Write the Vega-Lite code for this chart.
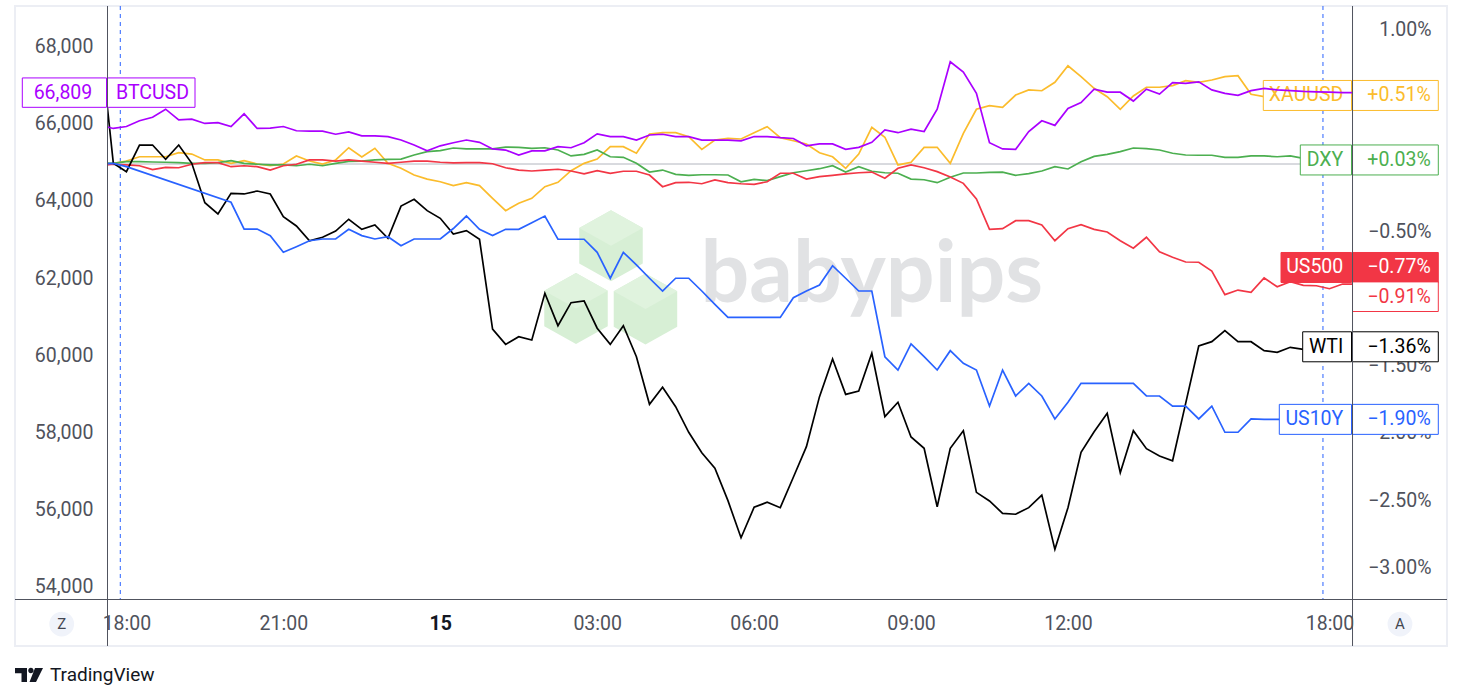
{
"$schema":"https://vega.github.io/schema/vega-lite/v6.json",
"width":1245,"height":593,
"autosize":{"type":"none"},
"padding":{"left":107,"top":6,"right":111,"bottom":101},
"background":"#ffffff",
"config":{"view":{"stroke":null},"font":"Roboto",
 "axis":{"grid":false,"ticks":false,"tickSize":0,"domain":false,"labelFont":"Roboto","labelFontSize":19.5,"labelColor":"#4f525c","zindex":0}},
"datasets":{
"bars":[
{"h":-0.5,"BTCUSD":65970,"XAUUSD":-0.01,"DXY":0.01,"US500":-0.013,"WTI":0.92,"US10Y":0},
{"h":-0.25,"BTCUSD":65880,"XAUUSD":0.005,"DXY":0.005,"US500":-0.002,"WTI":0.005,"US10Y":0.005},
{"h":0,"BTCUSD":65930,"XAUUSD":0.022,"DXY":0.017,"US500":-0.007,"WTI":-0.057,"US10Y":-0.02},
{"h":0.25,"BTCUSD":66080,"XAUUSD":0.054,"DXY":0.017,"US500":-0.013,"WTI":0.141,"US10Y":null},
{"h":0.5,"BTCUSD":66170,"XAUUSD":0.054,"DXY":0.015,"US500":-0.042,"WTI":0.141,"US10Y":null},
{"h":0.75,"BTCUSD":66380,"XAUUSD":0.054,"DXY":0.013,"US500":-0.025,"WTI":0.035,"US10Y":null},
{"h":1,"BTCUSD":66100,"XAUUSD":0.084,"DXY":0.01,"US500":-0.028,"WTI":0.141,"US10Y":null},
{"h":1.25,"BTCUSD":66120,"XAUUSD":0.074,"DXY":0.005,"US500":-0.002,"WTI":0.005,"US10Y":null},
{"h":1.5,"BTCUSD":66010,"XAUUSD":0.03,"DXY":0.005,"US500":0.01,"WTI":-0.288,"US10Y":null},
{"h":1.75,"BTCUSD":66030,"XAUUSD":0.03,"DXY":0.01,"US500":0.01,"WTI":-0.372,"US10Y":null},
{"h":2,"BTCUSD":65930,"XAUUSD":0.005,"DXY":0.025,"US500":-0.02,"WTI":-0.218,"US10Y":-0.285},
{"h":2.25,"BTCUSD":66260,"XAUUSD":0.025,"DXY":0.005,"US500":-0.013,"WTI":-0.223,"US10Y":-0.484},
{"h":2.5,"BTCUSD":65880,"XAUUSD":0,"DXY":-0.002,"US500":-0.02,"WTI":-0.201,"US10Y":-0.484},
{"h":2.75,"BTCUSD":65890,"XAUUSD":-0.013,"DXY":-0.007,"US500":-0.045,"WTI":-0.223,"US10Y":-0.533},
{"h":3,"BTCUSD":65930,"XAUUSD":0,"DXY":-0.007,"US500":-0.013,"WTI":-0.392,"US10Y":-0.657},
{"h":3.25,"BTCUSD":65820,"XAUUSD":0.06,"DXY":-0.013,"US500":-0.002,"WTI":-0.461,"US10Y":-0.615},
{"h":3.5,"BTCUSD":65810,"XAUUSD":0.022,"DXY":-0.002,"US500":0.03,"WTI":-0.571,"US10Y":-0.571},
{"h":3.75,"BTCUSD":65810,"XAUUSD":0,"DXY":-0.013,"US500":0.03,"WTI":-0.545,"US10Y":-0.558},
{"h":4,"BTCUSD":65730,"XAUUSD":0.03,"DXY":0.005,"US500":0.022,"WTI":-0.499,"US10Y":-0.558},
{"h":4.25,"BTCUSD":65790,"XAUUSD":0.121,"DXY":0.02,"US500":0.03,"WTI":-0.411,"US10Y":-0.486},
{"h":4.5,"BTCUSD":65690,"XAUUSD":0.052,"DXY":0.022,"US500":0.022,"WTI":-0.486,"US10Y":-0.533},
{"h":4.75,"BTCUSD":65690,"XAUUSD":0.117,"DXY":0.03,"US500":0.013,"WTI":-0.454,"US10Y":-0.558},
{"h":5,"BTCUSD":65670,"XAUUSD":0.005,"DXY":0.035,"US500":0.005,"WTI":-0.553,"US10Y":-0.541},
{"h":5.25,"BTCUSD":65580,"XAUUSD":-0.032,"DXY":0.037,"US500":0.013,"WTI":-0.313,"US10Y":-0.608},
{"h":5.5,"BTCUSD":65450,"XAUUSD":-0.082,"DXY":0.067,"US500":0.022,"WTI":-0.263,"US10Y":-0.558},
{"h":5.75,"BTCUSD":65300,"XAUUSD":-0.112,"DXY":0.092,"US500":0.022,"WTI":-0.347,"US10Y":-0.558},
{"h":6,"BTCUSD":65430,"XAUUSD":-0.132,"DXY":0.099,"US500":0.013,"WTI":-0.404,"US10Y":-0.558},
{"h":6.25,"BTCUSD":65510,"XAUUSD":-0.161,"DXY":0.119,"US500":0.008,"WTI":-0.521,"US10Y":-0.48},
{"h":6.5,"BTCUSD":65580,"XAUUSD":-0.139,"DXY":0.112,"US500":0.01,"WTI":-0.496,"US10Y":-0.387},
{"h":6.75,"BTCUSD":65520,"XAUUSD":-0.161,"DXY":0.112,"US500":0.01,"WTI":-0.56,"US10Y":-0.486},
{"h":7,"BTCUSD":65350,"XAUUSD":-0.255,"DXY":0.112,"US500":0.002,"WTI":-1.228,"US10Y":-0.533},
{"h":7.25,"BTCUSD":65320,"XAUUSD":-0.347,"DXY":0.126,"US500":-0.028,"WTI":-1.342,"US10Y":-0.486},
{"h":7.5,"BTCUSD":65190,"XAUUSD":-0.292,"DXY":0.124,"US500":-0.045,"WTI":-1.285,"US10Y":-0.486},
{"h":7.75,"BTCUSD":65300,"XAUUSD":-0.255,"DXY":0.117,"US500":-0.052,"WTI":-1.31,"US10Y":-0.437},
{"h":8,"BTCUSD":65300,"XAUUSD":-0.169,"DXY":0.121,"US500":-0.045,"WTI":-0.962,"US10Y":-0.387},
{"h":8.25,"BTCUSD":65410,"XAUUSD":-0.136,"DXY":0.104,"US500":-0.039,"WTI":-1.203,"US10Y":-0.56},
{"h":8.5,"BTCUSD":65380,"XAUUSD":-0.05,"DXY":0.06,"US500":-0.052,"WTI":-1.032,"US10Y":-0.56},
{"h":8.75,"BTCUSD":65510,"XAUUSD":0.005,"DXY":0.072,"US500":-0.074,"WTI":-1.019,"US10Y":-0.56},
{"h":9,"BTCUSD":65740,"XAUUSD":0.037,"DXY":0.104,"US500":-0.05,"WTI":-1.222,"US10Y":-0.657},
{"h":9.25,"BTCUSD":65670,"XAUUSD":0.129,"DXY":0.054,"US500":-0.069,"WTI":-1.342,"US10Y":-0.85},
{"h":9.5,"BTCUSD":65670,"XAUUSD":0.129,"DXY":0.05,"US500":-0.054,"WTI":-1.203,"US10Y":-0.657},
{"h":9.75,"BTCUSD":65580,"XAUUSD":0.08,"DXY":0.005,"US500":-0.054,"WTI":-1.434,"US10Y":-0.751},
{"h":10,"BTCUSD":65710,"XAUUSD":0.223,"DXY":-0.06,"US500":-0.082,"WTI":-1.788,"US10Y":-0.85},
{"h":10.25,"BTCUSD":65730,"XAUUSD":0.233,"DXY":-0.045,"US500":-0.169,"WTI":-1.661,"US10Y":-0.945},
{"h":10.5,"BTCUSD":65670,"XAUUSD":0.233,"DXY":-0.077,"US500":-0.139,"WTI":-1.806,"US10Y":-0.85},
{"h":10.75,"BTCUSD":65670,"XAUUSD":0.203,"DXY":-0.084,"US500":-0.136,"WTI":-1.996,"US10Y":-0.85},
{"h":11,"BTCUSD":65580,"XAUUSD":0.109,"DXY":-0.08,"US500":-0.147,"WTI":-2.148,"US10Y":-0.945},
{"h":11.25,"BTCUSD":65580,"XAUUSD":0.179,"DXY":-0.08,"US500":-0.119,"WTI":-2.264,"US10Y":-1.044},
{"h":11.5,"BTCUSD":65580,"XAUUSD":0.191,"DXY":-0.082,"US500":-0.139,"WTI":-2.505,"US10Y":-1.141},
{"h":11.75,"BTCUSD":65560,"XAUUSD":0.186,"DXY":-0.132,"US500":-0.147,"WTI":-2.781,"US10Y":-1.141},
{"h":12,"BTCUSD":65670,"XAUUSD":0.233,"DXY":-0.114,"US500":-0.151,"WTI":-2.554,"US10Y":-1.141},
{"h":12.25,"BTCUSD":65670,"XAUUSD":0.278,"DXY":-0.124,"US500":-0.132,"WTI":-2.517,"US10Y":-1.141},
{"h":12.5,"BTCUSD":65640,"XAUUSD":0.196,"DXY":-0.094,"US500":-0.069,"WTI":-2.557,"US10Y":-1.141},
{"h":12.75,"BTCUSD":65620,"XAUUSD":0.173,"DXY":-0.065,"US500":-0.069,"WTI":-2.331,"US10Y":-0.995},
{"h":13,"BTCUSD":65430,"XAUUSD":0.149,"DXY":-0.05,"US500":-0.112,"WTI":-2.103,"US10Y":-0.945},
{"h":13.25,"BTCUSD":65480,"XAUUSD":0.084,"DXY":-0.035,"US500":-0.094,"WTI":-1.731,"US10Y":-0.9},
{"h":13.5,"BTCUSD":65480,"XAUUSD":0.054,"DXY":-0.013,"US500":-0.084,"WTI":-1.451,"US10Y":-0.757},
{"h":13.75,"BTCUSD":65340,"XAUUSD":-0.032,"DXY":-0.06,"US500":-0.074,"WTI":-1.714,"US10Y":-0.85},
{"h":14,"BTCUSD":65390,"XAUUSD":0.074,"DXY":-0.02,"US500":-0.065,"WTI":-1.689,"US10Y":-0.945},
{"h":14.25,"BTCUSD":65520,"XAUUSD":0.273,"DXY":-0.054,"US500":-0.06,"WTI":-1.408,"US10Y":-0.945},
{"h":14.5,"BTCUSD":65840,"XAUUSD":0.199,"DXY":-0.065,"US500":-0.106,"WTI":-1.88,"US10Y":-1.434},
{"h":14.75,"BTCUSD":65770,"XAUUSD":-0.007,"DXY":-0.069,"US500":-0.032,"WTI":-1.773,"US10Y":-1.533},
{"h":15,"BTCUSD":65860,"XAUUSD":0.013,"DXY":-0.112,"US500":-0.006,"WTI":-2.031,"US10Y":-1.339},
{"h":15.25,"BTCUSD":65800,"XAUUSD":0.124,"DXY":-0.117,"US500":-0.028,"WTI":-2.115,"US10Y":-1.434},
{"h":15.5,"BTCUSD":66380,"XAUUSD":0.124,"DXY":-0.139,"US500":-0.057,"WTI":-2.55,"US10Y":-1.533},
{"h":15.75,"BTCUSD":67610,"XAUUSD":0.005,"DXY":-0.099,"US500":-0.097,"WTI":-2.115,"US10Y":-1.389},
{"h":16,"BTCUSD":67340,"XAUUSD":0.228,"DXY":-0.067,"US500":-0.144,"WTI":-1.984,"US10Y":-1.483},
{"h":16.25,"BTCUSD":66790,"XAUUSD":0.407,"DXY":-0.067,"US500":-0.26,"WTI":-2.443,"US10Y":-1.533},
{"h":16.5,"BTCUSD":65510,"XAUUSD":0.434,"DXY":-0.062,"US500":-0.486,"WTI":-2.507,"US10Y":-1.801},
{"h":16.75,"BTCUSD":65350,"XAUUSD":0.422,"DXY":-0.06,"US500":-0.481,"WTI":-2.599,"US10Y":-1.533},
{"h":17,"BTCUSD":65340,"XAUUSD":0.513,"DXY":-0.084,"US500":-0.422,"WTI":-2.606,"US10Y":-1.726},
{"h":17.25,"BTCUSD":65800,"XAUUSD":0.551,"DXY":-0.072,"US500":-0.422,"WTI":-2.557,"US10Y":-1.632},
{"h":17.5,"BTCUSD":66080,"XAUUSD":0.545,"DXY":-0.052,"US500":-0.454,"WTI":-2.463,"US10Y":-1.726},
{"h":17.75,"BTCUSD":65960,"XAUUSD":0.608,"DXY":-0.02,"US500":-0.571,"WTI":-2.867,"US10Y":-1.897},
{"h":18,"BTCUSD":66400,"XAUUSD":0.731,"DXY":-0.037,"US500":-0.481,"WTI":-2.557,"US10Y":-1.773},
{"h":18.25,"BTCUSD":66550,"XAUUSD":0.65,"DXY":0.017,"US500":-0.452,"WTI":-2.145,"US10Y":-1.632},
{"h":18.5,"BTCUSD":66900,"XAUUSD":0.563,"DXY":0.057,"US500":-0.486,"WTI":-1.992,"US10Y":-1.632},
{"h":18.75,"BTCUSD":66820,"XAUUSD":0.501,"DXY":0.072,"US500":-0.506,"WTI":-1.855,"US10Y":-1.632},
{"h":19,"BTCUSD":66820,"XAUUSD":0.407,"DXY":0.092,"US500":-0.571,"WTI":-2.297,"US10Y":-1.632},
{"h":19.25,"BTCUSD":66590,"XAUUSD":0.506,"DXY":0.119,"US500":-0.627,"WTI":-1.984,"US10Y":-1.632},
{"h":19.5,"BTCUSD":66900,"XAUUSD":0.571,"DXY":0.114,"US500":-0.545,"WTI":-2.118,"US10Y":-1.726},
{"h":19.75,"BTCUSD":66770,"XAUUSD":0.571,"DXY":0.104,"US500":-0.653,"WTI":-2.173,"US10Y":-1.726},
{"h":20,"BTCUSD":67070,"XAUUSD":0.583,"DXY":0.08,"US500":-0.694,"WTI":-2.208,"US10Y":-1.801},
{"h":20.25,"BTCUSD":67050,"XAUUSD":0.62,"DXY":0.067,"US500":-0.729,"WTI":-1.781,"US10Y":-1.801},
{"h":20.5,"BTCUSD":67090,"XAUUSD":0.608,"DXY":0.065,"US500":-0.731,"WTI":-1.354,"US10Y":-1.897},
{"h":20.75,"BTCUSD":66880,"XAUUSD":0.625,"DXY":0.065,"US500":-0.796,"WTI":-1.322,"US10Y":-1.801},
{"h":21,"BTCUSD":66790,"XAUUSD":0.65,"DXY":0.05,"US500":-0.972,"WTI":-1.24,"US10Y":-1.996},
{"h":21.25,"BTCUSD":66740,"XAUUSD":0.657,"DXY":0.05,"US500":-0.938,"WTI":-1.322,"US10Y":-1.996},
{"h":21.5,"BTCUSD":66860,"XAUUSD":0.519,"DXY":0.06,"US500":-0.955,"WTI":-1.322,"US10Y":-1.897},
{"h":21.75,"BTCUSD":66920,"XAUUSD":0.501,"DXY":0.06,"US500":-0.848,"WTI":-1.389,"US10Y":-1.9},
{"h":22,"BTCUSD":66880,"XAUUSD":0.5,"DXY":0.054,"US500":-0.913,"WTI":-1.401,"US10Y":-1.9},
{"h":22.25,"BTCUSD":66860,"XAUUSD":0.52,"DXY":0.06,"US500":-0.876,"WTI":-1.364,"US10Y":-1.9},
{"h":22.5,"BTCUSD":66840,"XAUUSD":0.51,"DXY":0.042,"US500":-0.903,"WTI":-1.379,"US10Y":-1.9},
{"h":22.75,"BTCUSD":66830,"XAUUSD":0.5,"DXY":0.035,"US500":-0.906,"WTI":-1.37,"US10Y":-1.9},
{"h":23,"BTCUSD":66820,"XAUUSD":0.51,"DXY":0.03,"US500":-0.928,"WTI":-1.36,"US10Y":-1.9},
{"h":23.25,"BTCUSD":66810,"XAUUSD":0.51,"DXY":0.03,"US500":-0.893,"WTI":-1.36,"US10Y":-1.9},
{"h":23.5,"BTCUSD":66809,"XAUUSD":0.51,"DXY":0.03,"US500":-0.895,"WTI":-1.36,"US10Y":-1.9}
],
"lastValues":[
{"name":"XAUUSD","last":0.51,"label":"+0.51%"},
{"name":"DXY","last":0.03,"label":"+0.03%"},
{"name":"US500","last":-0.77,"label":"−0.77%"},
{"name":"WTI","last":-1.36,"label":"−1.36%"},
{"name":"US10Y","last":-1.9,"label":"−1.90%"}
],
"sessions":[{"h":-0.117},{"h":22.875}],
"cubes":[{"h":9.264,"pct":-0.609},{"h":8.595,"pct":-1.076},{"h":9.923,"pct":-1.079}]
},
"layer":[
{"layer":[
 {"data":{"values":[{}]},"mark":{"type":"rect","fill":"#ffffff","fillOpacity":0,"stroke":"#eceef4","strokeWidth":2},
  "encoding":{"x":{"datum":-2.13,"type":"quantitative","title":null,"scale":{"domain":[-0.371,23.43],"nice":false,"zero":false},
    "axis":{"orient":"bottom","title":null,"values":[0,3,6,9,12,15,18,23],"labelExpr":"datum.value == 0 ? '18:00' : datum.value == 3 ? '21:00' : datum.value == 6 ? '15' : datum.value == 9 ? '03:00' : datum.value == 12 ? '06:00' : datum.value == 15 ? '09:00' : datum.value == 18 ? '12:00' : '18:00'","labelPadding":30,"labelBaseline":"alphabetic","labelOverlap":false,"labelFlush":false,"labelBound":false,"labelFontWeight":{"condition":{"test":"datum.value === 6","value":"bold"},"value":"normal"},"labelColor":{"condition":{"test":"datum.value === 6","value":"#131722"},"value":"#4f525c"},"zindex":0}},
   "x2":{"datum":25.246},
   "y":{"datum":1.1756,"type":"quantitative","title":null,"scale":{"domain":[-3.2366,1.1756],"nice":false,"zero":false},
    "axis":{"orient":"right","title":null,"values":[1,-0.5,-1.5,-2,-2.5,-3],"labelExpr":"format(datum.value, '.2f') + '%'","labelAlign":"right","labelPadding":79,"labelBaseline":"middle","labelOverlap":false,"labelFlush":false,"labelBound":false,"zindex":0}},
   "y2":{"datum":-3.586}}},
 {"data":{"values":[{"h":-1.237,"pct":-3.423,"t":"Z"},{"h":24.347,"pct":-3.423,"t":"A"}]},
  "layer":[
   {"mark":{"type":"point","shape":"circle","size":616,"filled":true,"fill":"#f0f3fa","opacity":1,"strokeWidth":0}},
   {"mark":{"type":"text","fontSize":15,"color":"#434651","baseline":"middle","align":"center"},"encoding":{"text":{"field":"t"}}}
  ],
  "encoding":{"x":{"field":"h","type":"quantitative","title":null,"scale":{"domain":[-0.371,23.43],"nice":false,"zero":false},
    "axis":{"orient":"bottom","title":null,"values":[0,3,6,9,12,15,18,23],"labelExpr":"datum.value == 0 ? '18:00' : datum.value == 3 ? '21:00' : datum.value == 6 ? '15' : datum.value == 9 ? '03:00' : datum.value == 12 ? '06:00' : datum.value == 15 ? '09:00' : datum.value == 18 ? '12:00' : '18:00'","labelPadding":30,"labelBaseline":"alphabetic","labelOverlap":false,"labelFlush":false,"labelBound":false,"labelFontWeight":{"condition":{"test":"datum.value === 6","value":"bold"},"value":"normal"},"labelColor":{"condition":{"test":"datum.value === 6","value":"#131722"},"value":"#4f525c"},"zindex":0}},
   "y":{"field":"pct","type":"quantitative","title":null,"scale":{"domain":[-3.2366,1.1756],"nice":false,"zero":false},
    "axis":{"orient":"right","title":null,"values":[1,-0.5,-1.5,-2,-2.5,-3],"labelExpr":"format(datum.value, '.2f') + '%'","labelAlign":"right","labelPadding":79,"labelBaseline":"middle","labelOverlap":false,"labelFlush":false,"labelBound":false,"zindex":0}}}},
 {"data":{"values":[{"h":-1.862,"pct":-3.802,"kind":"icon"}]},"mark":{"type":"point","shape":"M-14,-7H-2V7H-7.5V-1.8H-14Z M-0.8,-4.5a2.7,2.7 0 1,0 5.4,0a2.7,2.7 0 1,0 -5.4,0Z M6,-7H14L7,7H0.5Z","size":4,"filled":true,"fill":"#131722","opacity":1,"strokeWidth":0},
  "encoding":{"x":{"field":"h","type":"quantitative","title":null,"scale":{"domain":[-0.371,23.43],"nice":false,"zero":false},
    "axis":{"orient":"bottom","title":null,"values":[0,3,6,9,12,15,18,23],"labelExpr":"datum.value == 0 ? '18:00' : datum.value == 3 ? '21:00' : datum.value == 6 ? '15' : datum.value == 9 ? '03:00' : datum.value == 12 ? '06:00' : datum.value == 15 ? '09:00' : datum.value == 18 ? '12:00' : '18:00'","labelPadding":30,"labelBaseline":"alphabetic","labelOverlap":false,"labelFlush":false,"labelBound":false,"labelFontWeight":{"condition":{"test":"datum.value === 6","value":"bold"},"value":"normal"},"labelColor":{"condition":{"test":"datum.value === 6","value":"#131722"},"value":"#4f525c"},"zindex":0}},
   "y":{"field":"pct","type":"quantitative","title":null,"scale":{"domain":[-3.2366,1.1756],"nice":false,"zero":false},
    "axis":{"orient":"right","title":null,"values":[1,-0.5,-1.5,-2,-2.5,-3],"labelExpr":"format(datum.value, '.2f') + '%'","labelAlign":"right","labelPadding":79,"labelBaseline":"middle","labelOverlap":false,"labelFlush":false,"labelBound":false,"zindex":0}}}},
 {"data":{"values":[{"h":-1.461,"pct":-3.85,"t":"TradingView"}]},"mark":{"type":"text","align":"left","baseline":"alphabetic","fontSize":19,"color":"#131722"},
  "encoding":{"text":{"field":"t"},"x":{"field":"h","type":"quantitative","title":null,"scale":{"domain":[-0.371,23.43],"nice":false,"zero":false},
    "axis":{"orient":"bottom","title":null,"values":[0,3,6,9,12,15,18,23],"labelExpr":"datum.value == 0 ? '18:00' : datum.value == 3 ? '21:00' : datum.value == 6 ? '15' : datum.value == 9 ? '03:00' : datum.value == 12 ? '06:00' : datum.value == 15 ? '09:00' : datum.value == 18 ? '12:00' : '18:00'","labelPadding":30,"labelBaseline":"alphabetic","labelOverlap":false,"labelFlush":false,"labelBound":false,"labelFontWeight":{"condition":{"test":"datum.value === 6","value":"bold"},"value":"normal"},"labelColor":{"condition":{"test":"datum.value === 6","value":"#131722"},"value":"#4f525c"},"zindex":0}},
   "y":{"field":"pct","type":"quantitative","title":null,"scale":{"domain":[-3.2366,1.1756],"nice":false,"zero":false},
    "axis":{"orient":"right","title":null,"values":[1,-0.5,-1.5,-2,-2.5,-3],"labelExpr":"format(datum.value, '.2f') + '%'","labelAlign":"right","labelPadding":79,"labelBaseline":"middle","labelOverlap":false,"labelFlush":false,"labelBound":false,"zindex":0}}}},
 {"data":{"name":"cubes"},
  "layer":[
   {"mark":{"type":"point","shape":"M0,-35.5L31.75,-17.75L31.75,17.75L0,35.5L-31.75,17.75L-31.75,-17.75Z","size":4,"filled":true,"fill":"#d7efd5","opacity":1,"strokeWidth":0}},
   {"mark":{"type":"point","shape":"M0,-35.5L31.75,-17.75L0,0L-31.75,-17.75Z","size":4,"filled":true,"fill":"#e0f3de","opacity":1,"strokeWidth":0}}
  ],
  "encoding":{"x":{"field":"h","type":"quantitative","title":null,"scale":{"domain":[-0.371,23.43],"nice":false,"zero":false},
    "axis":{"orient":"bottom","title":null,"values":[0,3,6,9,12,15,18,23],"labelExpr":"datum.value == 0 ? '18:00' : datum.value == 3 ? '21:00' : datum.value == 6 ? '15' : datum.value == 9 ? '03:00' : datum.value == 12 ? '06:00' : datum.value == 15 ? '09:00' : datum.value == 18 ? '12:00' : '18:00'","labelPadding":30,"labelBaseline":"alphabetic","labelOverlap":false,"labelFlush":false,"labelBound":false,"labelFontWeight":{"condition":{"test":"datum.value === 6","value":"bold"},"value":"normal"},"labelColor":{"condition":{"test":"datum.value === 6","value":"#131722"},"value":"#4f525c"},"zindex":0}},
   "y":{"field":"pct","type":"quantitative","title":null,"scale":{"domain":[-3.2366,1.1756],"nice":false,"zero":false},
    "axis":{"orient":"right","title":null,"values":[1,-0.5,-1.5,-2,-2.5,-3],"labelExpr":"format(datum.value, '.2f') + '%'","labelAlign":"right","labelPadding":79,"labelBaseline":"middle","labelOverlap":false,"labelFlush":false,"labelBound":false,"zindex":0}}}},
 {"data":{"values":[{"h":14.25,"pct":-1.027,"t":"babypips"}]},"mark":{"type":"text","font":"Lato","fontSize":86,"fontWeight":"bold","color":"#e1e2e4","align":"center","baseline":"alphabetic"},
  "encoding":{"text":{"field":"t"},"x":{"field":"h","type":"quantitative","title":null,"scale":{"domain":[-0.371,23.43],"nice":false,"zero":false},
    "axis":{"orient":"bottom","title":null,"values":[0,3,6,9,12,15,18,23],"labelExpr":"datum.value == 0 ? '18:00' : datum.value == 3 ? '21:00' : datum.value == 6 ? '15' : datum.value == 9 ? '03:00' : datum.value == 12 ? '06:00' : datum.value == 15 ? '09:00' : datum.value == 18 ? '12:00' : '18:00'","labelPadding":30,"labelBaseline":"alphabetic","labelOverlap":false,"labelFlush":false,"labelBound":false,"labelFontWeight":{"condition":{"test":"datum.value === 6","value":"bold"},"value":"normal"},"labelColor":{"condition":{"test":"datum.value === 6","value":"#131722"},"value":"#4f525c"},"zindex":0}},
   "y":{"field":"pct","type":"quantitative","title":null,"scale":{"domain":[-3.2366,1.1756],"nice":false,"zero":false},
    "axis":{"orient":"right","title":null,"values":[1,-0.5,-1.5,-2,-2.5,-3],"labelExpr":"format(datum.value, '.2f') + '%'","labelAlign":"right","labelPadding":79,"labelBaseline":"middle","labelOverlap":false,"labelFlush":false,"labelBound":false,"zindex":0}}}},
 {"data":{"values":[{"pct":0}]},"mark":{"type":"rule","color":"#b2b5be","strokeWidth":1},
  "encoding":{"y":{"field":"pct","type":"quantitative","title":null,"scale":{"domain":[-3.2366,1.1756],"nice":false,"zero":false},
    "axis":{"orient":"right","title":null,"values":[1,-0.5,-1.5,-2,-2.5,-3],"labelExpr":"format(datum.value, '.2f') + '%'","labelAlign":"right","labelPadding":79,"labelBaseline":"middle","labelOverlap":false,"labelFlush":false,"labelBound":false,"zindex":0}}}},
 {"data":{"name":"sessions"},"mark":{"type":"rule","color":"#2962ff","strokeWidth":1,"strokeDash":[4,4]},
  "encoding":{"x":{"field":"h","type":"quantitative","title":null,"scale":{"domain":[-0.371,23.43],"nice":false,"zero":false},
    "axis":{"orient":"bottom","title":null,"values":[0,3,6,9,12,15,18,23],"labelExpr":"datum.value == 0 ? '18:00' : datum.value == 3 ? '21:00' : datum.value == 6 ? '15' : datum.value == 9 ? '03:00' : datum.value == 12 ? '06:00' : datum.value == 15 ? '09:00' : datum.value == 18 ? '12:00' : '18:00'","labelPadding":30,"labelBaseline":"alphabetic","labelOverlap":false,"labelFlush":false,"labelBound":false,"labelFontWeight":{"condition":{"test":"datum.value === 6","value":"bold"},"value":"normal"},"labelColor":{"condition":{"test":"datum.value === 6","value":"#131722"},"value":"#4f525c"},"zindex":0}}}},
 {"data":{"name":"bars"},
  "transform":[{"fold":["XAUUSD","DXY","US500","WTI","US10Y"],"as":["series","pct"]}],
  "mark":{"type":"line","clip":true,"strokeWidth":1.7,"invalid":"filter"},
  "encoding":{
   "x":{"field":"h","type":"quantitative","title":null,"scale":{"domain":[-0.371,23.43],"nice":false,"zero":false},
    "axis":{"orient":"bottom","title":null,"values":[0,3,6,9,12,15,18,23],"labelExpr":"datum.value == 0 ? '18:00' : datum.value == 3 ? '21:00' : datum.value == 6 ? '15' : datum.value == 9 ? '03:00' : datum.value == 12 ? '06:00' : datum.value == 15 ? '09:00' : datum.value == 18 ? '12:00' : '18:00'","labelPadding":30,"labelBaseline":"alphabetic","labelOverlap":false,"labelFlush":false,"labelBound":false,"labelFontWeight":{"condition":{"test":"datum.value === 6","value":"bold"},"value":"normal"},"labelColor":{"condition":{"test":"datum.value === 6","value":"#131722"},"value":"#4f525c"},"zindex":0}},
   "y":{"field":"pct","type":"quantitative","title":null,"scale":{"domain":[-3.2366,1.1756],"nice":false,"zero":false},
    "axis":{"orient":"right","title":null,"values":[1,-0.5,-1.5,-2,-2.5,-3],"labelExpr":"format(datum.value, '.2f') + '%'","labelAlign":"right","labelPadding":79,"labelBaseline":"middle","labelOverlap":false,"labelFlush":false,"labelBound":false,"zindex":0}},
   "color":{"field":"series","type":"nominal","scale":{"domain":["XAUUSD","DXY","US500","WTI","US10Y"],"range":["#fbbc2c","#4caf50","#f23645","#000000","#2962ff"]},"legend":null}
  }},
 {"data":{"name":"lastValues"},
  "layer":[
   {"mark":{"type":"point","size":4,"filled":true,"opacity":1,"fillOpacity":1,"strokeOpacity":1,"strokeWidth":1},
    "encoding":{
     "shape":{"field":"name","type":"nominal","scale":{"domain":["XAUUSD","DXY","US500","WTI","US10Y"],"range":[
      "M-88.7,-15H-0.5V15H-88.7Z M0.5,-15H86.3V15H0.5Z",
      "M-51.7,-15H-0.5V15H-51.7Z M0.5,-15H86.3V15H0.5Z",
      "M-71,-15H-0.5V15H-71Z M0.5,-15H86.3V15H0.5Z",
      "M-49.3,-15H-0.5V15H-49.3Z M0.5,-15H86.3V15H0.5Z",
      "M-72.7,-15H-0.5V15H-72.7Z M0.5,-15H86.3V15H0.5Z"]},"legend":null},
     "stroke":{"field":"name","type":"nominal","scale":{"domain":["XAUUSD","DXY","US500","WTI","US10Y"],"range":["#fbbc2c","#4caf50","#f23645","#000000","#2962ff"]},"legend":null},
     "fill":{"condition":{"test":"datum.name === 'US500'","value":"#f23645"},"value":"#ffffff"}}},
   {"mark":{"type":"text","align":"right","baseline":"middle","dx":-8.7,"fontSize":19.5},
    "encoding":{"text":{"field":"name"},
     "color":{"condition":{"test":"datum.name === 'US500'","value":"#ffffff"},"field":"name","type":"nominal","scale":{"domain":["XAUUSD","DXY","US500","WTI","US10Y"],"range":["#fbbc2c","#4caf50","#f23645","#000000","#2962ff"]},"legend":null}}},
   {"mark":{"type":"text","align":"right","baseline":"middle","dx":78.7,"fontSize":19.5},
    "encoding":{"text":{"field":"label"},
     "color":{"condition":{"test":"datum.name === 'US500'","value":"#ffffff"},"field":"name","type":"nominal","scale":{"domain":["XAUUSD","DXY","US500","WTI","US10Y"],"range":["#fbbc2c","#4caf50","#f23645","#000000","#2962ff"]},"legend":null}}}
  ],
  "encoding":{"x":{"datum":23.43,"type":"quantitative","title":null,"scale":{"domain":[-0.371,23.43],"nice":false,"zero":false},
    "axis":{"orient":"bottom","title":null,"values":[0,3,6,9,12,15,18,23],"labelExpr":"datum.value == 0 ? '18:00' : datum.value == 3 ? '21:00' : datum.value == 6 ? '15' : datum.value == 9 ? '03:00' : datum.value == 12 ? '06:00' : datum.value == 15 ? '09:00' : datum.value == 18 ? '12:00' : '18:00'","labelPadding":30,"labelBaseline":"alphabetic","labelOverlap":false,"labelFlush":false,"labelBound":false,"labelFontWeight":{"condition":{"test":"datum.value === 6","value":"bold"},"value":"normal"},"labelColor":{"condition":{"test":"datum.value === 6","value":"#131722"},"value":"#4f525c"},"zindex":0}},
   "y":{"field":"last","type":"quantitative","title":null,"scale":{"domain":[-3.2366,1.1756],"nice":false,"zero":false},
    "axis":{"orient":"right","title":null,"values":[1,-0.5,-1.5,-2,-2.5,-3],"labelExpr":"format(datum.value, '.2f') + '%'","labelAlign":"right","labelPadding":79,"labelBaseline":"middle","labelOverlap":false,"labelFlush":false,"labelBound":false,"zindex":0}}}},
 {"data":{"values":[{"name":"US500","last":-0.91,"label":"−0.91%"}]},
  "layer":[
   {"mark":{"type":"point","size":4,"filled":true,"opacity":1,"fill":"#ffffff","stroke":"#f23645","strokeWidth":1,"shape":"M0.5,-4.4H86.3V25.2H0.5Z"}},
   {"mark":{"type":"text","align":"right","baseline":"middle","dx":78.7,"dy":10.4,"fontSize":19.5,"color":"#f23645"},"encoding":{"text":{"field":"label"}}}
  ],
  "encoding":{"x":{"datum":23.43,"type":"quantitative","title":null,"scale":{"domain":[-0.371,23.43],"nice":false,"zero":false},
    "axis":{"orient":"bottom","title":null,"values":[0,3,6,9,12,15,18,23],"labelExpr":"datum.value == 0 ? '18:00' : datum.value == 3 ? '21:00' : datum.value == 6 ? '15' : datum.value == 9 ? '03:00' : datum.value == 12 ? '06:00' : datum.value == 15 ? '09:00' : datum.value == 18 ? '12:00' : '18:00'","labelPadding":30,"labelBaseline":"alphabetic","labelOverlap":false,"labelFlush":false,"labelBound":false,"labelFontWeight":{"condition":{"test":"datum.value === 6","value":"bold"},"value":"normal"},"labelColor":{"condition":{"test":"datum.value === 6","value":"#131722"},"value":"#4f525c"},"zindex":0}},
   "y":{"field":"last","type":"quantitative","title":null,"scale":{"domain":[-3.2366,1.1756],"nice":false,"zero":false},
    "axis":{"orient":"right","title":null,"values":[1,-0.5,-1.5,-2,-2.5,-3],"labelExpr":"format(datum.value, '.2f') + '%'","labelAlign":"right","labelPadding":79,"labelBaseline":"middle","labelOverlap":false,"labelFlush":false,"labelBound":false,"zindex":0}}}}
]},
{"layer":[
 {"data":{"name":"bars"},"mark":{"type":"line","clip":true,"strokeWidth":1.7,"color":"#aa00ff"},
  "encoding":{"x":{"field":"h","type":"quantitative","title":null,"scale":{"domain":[-0.371,23.43],"nice":false,"zero":false},
    "axis":{"orient":"bottom","title":null,"values":[0,3,6,9,12,15,18,23],"labelExpr":"datum.value == 0 ? '18:00' : datum.value == 3 ? '21:00' : datum.value == 6 ? '15' : datum.value == 9 ? '03:00' : datum.value == 12 ? '06:00' : datum.value == 15 ? '09:00' : datum.value == 18 ? '12:00' : '18:00'","labelPadding":30,"labelBaseline":"alphabetic","labelOverlap":false,"labelFlush":false,"labelBound":false,"labelFontWeight":{"condition":{"test":"datum.value === 6","value":"bold"},"value":"normal"},"labelColor":{"condition":{"test":"datum.value === 6","value":"#131722"},"value":"#4f525c"},"zindex":0}},
   "y":{"field":"BTCUSD","type":"quantitative","title":null,"scale":{"domain":[53680,69055],"nice":false,"zero":false},
    "axis":{"orient":"left","title":null,"values":[54000,56000,58000,60000,62000,64000,66000,68000],"labelExpr":"format(datum.value, ',')","labelPadding":14,"labelOverlap":false,"labelFlush":false,"labelBound":false,"zindex":0}}}},
 {"data":{"values":[{"name":"BTCUSD","last":66809}]},
  "layer":[
   {"mark":{"type":"point","size":4,"filled":true,"opacity":1,"fill":"#ffffff","stroke":"#aa00ff","strokeWidth":1,"shape":"M-84.7,-14.7H-0.5V14.7H-84.7Z M0.5,-14.7H88V14.7H0.5Z"}},
   {"mark":{"type":"text","align":"right","baseline":"middle","dx":-14.7,"fontSize":19.5,"color":"#aa00ff"},"encoding":{"text":{"field":"last","type":"quantitative","format":","}}},
   {"mark":{"type":"text","align":"left","baseline":"middle","dx":9,"fontSize":19.5,"color":"#aa00ff"},"encoding":{"text":{"field":"name"}}}
  ],
  "encoding":{"x":{"datum":-0.371,"type":"quantitative","title":null,"scale":{"domain":[-0.371,23.43],"nice":false,"zero":false},
    "axis":{"orient":"bottom","title":null,"values":[0,3,6,9,12,15,18,23],"labelExpr":"datum.value == 0 ? '18:00' : datum.value == 3 ? '21:00' : datum.value == 6 ? '15' : datum.value == 9 ? '03:00' : datum.value == 12 ? '06:00' : datum.value == 15 ? '09:00' : datum.value == 18 ? '12:00' : '18:00'","labelPadding":30,"labelBaseline":"alphabetic","labelOverlap":false,"labelFlush":false,"labelBound":false,"labelFontWeight":{"condition":{"test":"datum.value === 6","value":"bold"},"value":"normal"},"labelColor":{"condition":{"test":"datum.value === 6","value":"#131722"},"value":"#4f525c"},"zindex":0}},
   "y":{"field":"last","type":"quantitative","title":null,"scale":{"domain":[53680,69055],"nice":false,"zero":false},
    "axis":{"orient":"left","title":null,"values":[54000,56000,58000,60000,62000,64000,66000,68000],"labelExpr":"format(datum.value, ',')","labelPadding":14,"labelOverlap":false,"labelFlush":false,"labelBound":false,"zindex":0}}}},
 {"data":{"values":[{"h":-0.3614,"top":69055,"bottom":52462},{"h":23.44,"top":69055,"bottom":52462}]},"mark":{"type":"rule","color":"#50535e","strokeWidth":1},
  "encoding":{"x":{"field":"h","type":"quantitative","title":null,"scale":{"domain":[-0.371,23.43],"nice":false,"zero":false},
    "axis":{"orient":"bottom","title":null,"values":[0,3,6,9,12,15,18,23],"labelExpr":"datum.value == 0 ? '18:00' : datum.value == 3 ? '21:00' : datum.value == 6 ? '15' : datum.value == 9 ? '03:00' : datum.value == 12 ? '06:00' : datum.value == 15 ? '09:00' : datum.value == 18 ? '12:00' : '18:00'","labelPadding":30,"labelBaseline":"alphabetic","labelOverlap":false,"labelFlush":false,"labelBound":false,"labelFontWeight":{"condition":{"test":"datum.value === 6","value":"bold"},"value":"normal"},"labelColor":{"condition":{"test":"datum.value === 6","value":"#131722"},"value":"#4f525c"},"zindex":0}},
   "y":{"field":"top","type":"quantitative","title":null,"scale":{"domain":[53680,69055],"nice":false,"zero":false},
    "axis":{"orient":"left","title":null,"values":[54000,56000,58000,60000,62000,64000,66000,68000],"labelExpr":"format(datum.value, ',')","labelPadding":14,"labelOverlap":false,"labelFlush":false,"labelBound":false,"zindex":0}},
   "y2":{"field":"bottom"}}},
 {"data":{"values":[{"left":-2.13,"right":25.246,"y":53667}]},"mark":{"type":"rule","color":"#50535e","strokeWidth":1},
  "encoding":{"x":{"field":"left","type":"quantitative","title":null,"scale":{"domain":[-0.371,23.43],"nice":false,"zero":false},
    "axis":{"orient":"bottom","title":null,"values":[0,3,6,9,12,15,18,23],"labelExpr":"datum.value == 0 ? '18:00' : datum.value == 3 ? '21:00' : datum.value == 6 ? '15' : datum.value == 9 ? '03:00' : datum.value == 12 ? '06:00' : datum.value == 15 ? '09:00' : datum.value == 18 ? '12:00' : '18:00'","labelPadding":30,"labelBaseline":"alphabetic","labelOverlap":false,"labelFlush":false,"labelBound":false,"labelFontWeight":{"condition":{"test":"datum.value === 6","value":"bold"},"value":"normal"},"labelColor":{"condition":{"test":"datum.value === 6","value":"#131722"},"value":"#4f525c"},"zindex":0}},
   "x2":{"field":"right"},
   "y":{"field":"y","type":"quantitative","title":null,"scale":{"domain":[53680,69055],"nice":false,"zero":false},
    "axis":{"orient":"left","title":null,"values":[54000,56000,58000,60000,62000,64000,66000,68000],"labelExpr":"format(datum.value, ',')","labelPadding":14,"labelOverlap":false,"labelFlush":false,"labelBound":false,"zindex":0}}}}
]}
],
"resolve":{"scale":{"y":"independent"}}
}
